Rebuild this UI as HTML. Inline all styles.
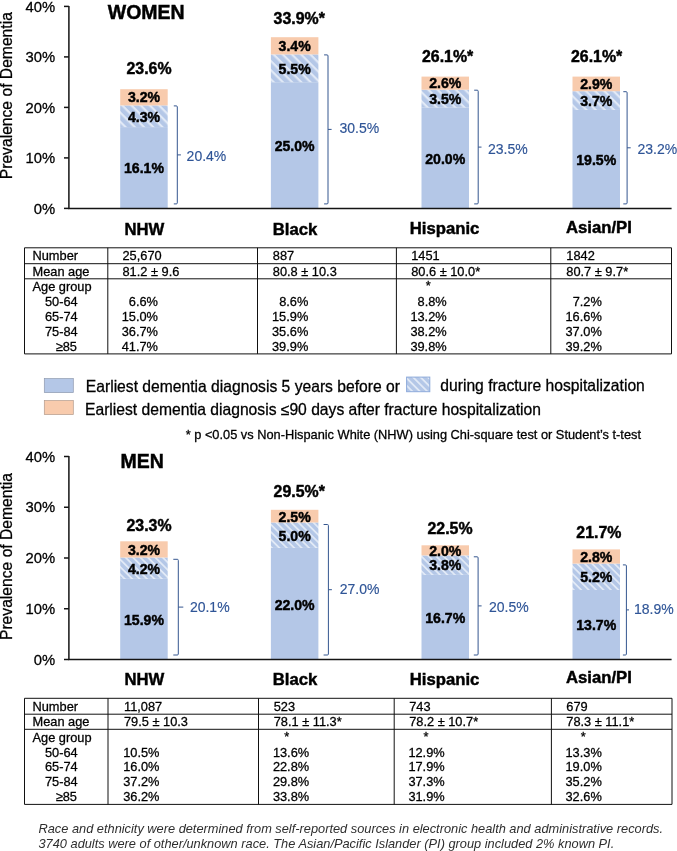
<!DOCTYPE html>
<html lang="en"><head><meta charset="utf-8"><title>Prevalence of Dementia</title>
<style>
html,body{margin:0;padding:0;background:#fff;}
svg{display:block;font-family:"Liberation Sans", sans-serif;}
</style></head><body>
<svg width="677" height="851" viewBox="0 0 677 851">
<defs>
<pattern id="hatch" width="6.5" height="6.5" patternUnits="userSpaceOnUse" patternTransform="rotate(45)">
<rect width="6.5" height="6.5" fill="#b4c7e7"/>
<rect x="0" y="0" width="6.5" height="2.2" fill="#e1e9f6"/>
</pattern>
<pattern id="hatchm" width="5.25" height="5.25" patternUnits="userSpaceOnUse" patternTransform="rotate(45)">
<rect width="5.25" height="5.25" fill="#b4c7e7"/>
<rect x="0" y="0" width="5.25" height="1.8" fill="#e1e9f6"/>
</pattern>
</defs>
<rect width="677" height="851" fill="#fff"/>
<path d="M64 208.4H68.9" stroke="#141414" stroke-width="1.5"/>
<text x="55.2" y="213.5" font-size="14.8" font-weight="normal" fill="#000" stroke="#000" stroke-width="0.28" text-anchor="end" font-style="normal" >0%</text>
<path d="M64 157.9H68.9" stroke="#141414" stroke-width="1.5"/>
<text x="55.2" y="163.0" font-size="14.8" font-weight="normal" fill="#000" stroke="#000" stroke-width="0.28" text-anchor="end" font-style="normal" >10%</text>
<path d="M64 107.4H68.9" stroke="#141414" stroke-width="1.5"/>
<text x="55.2" y="112.5" font-size="14.8" font-weight="normal" fill="#000" stroke="#000" stroke-width="0.28" text-anchor="end" font-style="normal" >20%</text>
<path d="M64 56.900000000000006H68.9" stroke="#141414" stroke-width="1.5"/>
<text x="55.2" y="62.0" font-size="14.8" font-weight="normal" fill="#000" stroke="#000" stroke-width="0.28" text-anchor="end" font-style="normal" >30%</text>
<path d="M64 6.400000000000006H68.9" stroke="#141414" stroke-width="1.5"/>
<text x="55.2" y="11.5" font-size="14.8" font-weight="normal" fill="#000" stroke="#000" stroke-width="0.28" text-anchor="end" font-style="normal" >40%</text>
<text transform="translate(12.4 95.7) rotate(-90)" font-size="15.66" stroke="#000" stroke-width="0.28" text-anchor="middle">Prevalence of Dementia</text>
<text x="107.8" y="19.4" font-size="19.5" font-weight="bold" fill="#000" stroke="#000" stroke-width="0.45" text-anchor="start" font-style="normal" >WOMEN</text>
<rect x="120.2" y="127.1" width="47.5" height="81.3" fill="#b4c7e7"/>
<rect x="120.2" y="105.4" width="47.5" height="21.7" fill="url(#hatch)"/>
<rect x="120.2" y="89.2" width="47.5" height="16.2" fill="#f8cbad"/>
<text x="143.95" y="173.4" font-size="14.1" font-weight="bold" fill="#000" stroke="#000" stroke-width="0.45" text-anchor="middle" font-style="normal" >16.1%</text>
<text x="143.95" y="122" font-size="14.1" font-weight="bold" fill="#000" stroke="#000" stroke-width="0.45" text-anchor="middle" font-style="normal" >4.3%</text>
<text x="143.95" y="102" font-size="14.1" font-weight="bold" fill="#000" stroke="#000" stroke-width="0.45" text-anchor="middle" font-style="normal" >3.2%</text>
<text x="126.5" y="73.7" font-size="15.9" font-weight="bold" fill="#000" stroke="#000" stroke-width="0.45" text-anchor="start" font-style="normal" >23.6%</text>
<path d="M173.8 105.9H176.3Q177.3 105.9 177.3 106.9V202.9Q177.3 203.9 176.3 203.9H173.8M177.3 154.9H180.9" fill="none" stroke="#34568f" stroke-width="1"/>
<text x="186.6" y="160.6" font-size="14.0" font-weight="normal" fill="#2f5597" stroke="#2f5597" stroke-width="0.15" text-anchor="start" font-style="normal" >20.4%</text>
<text x="124.4" y="234.6" font-size="16.7" font-weight="bold" fill="#000" stroke="#000" stroke-width="0.45" text-anchor="start" font-style="normal" >NHW</text>
<rect x="270.9" y="82.2" width="47.5" height="126.2" fill="#b4c7e7"/>
<rect x="270.9" y="54.4" width="47.5" height="27.8" fill="url(#hatch)"/>
<rect x="270.9" y="37.2" width="47.5" height="17.2" fill="#f8cbad"/>
<text x="294.65" y="151" font-size="14.1" font-weight="bold" fill="#000" stroke="#000" stroke-width="0.45" text-anchor="middle" font-style="normal" >25.0%</text>
<text x="294.65" y="73.5" font-size="14.1" font-weight="bold" fill="#000" stroke="#000" stroke-width="0.45" text-anchor="middle" font-style="normal" >5.5%</text>
<text x="294.65" y="51" font-size="14.1" font-weight="bold" fill="#000" stroke="#000" stroke-width="0.45" text-anchor="middle" font-style="normal" >3.4%</text>
<text x="273.6" y="23.8" font-size="15.9" font-weight="bold" fill="#000" stroke="#000" stroke-width="0.45" text-anchor="start" font-style="normal" >33.9%*</text>
<path d="M324.1 54.9H327.0Q328.0 54.9 328.0 55.9V202.9Q328.0 203.9 327.0 203.9H324.1M328.0 129.4H331.6" fill="none" stroke="#34568f" stroke-width="1"/>
<text x="339.5" y="132.5" font-size="14.0" font-weight="normal" fill="#2f5597" stroke="#2f5597" stroke-width="0.15" text-anchor="start" font-style="normal" >30.5%</text>
<text x="272.8" y="234.6" font-size="16.7" font-weight="bold" fill="#000" stroke="#000" stroke-width="0.45" text-anchor="start" font-style="normal" >Black</text>
<rect x="421.5" y="107.4" width="47.5" height="101.0" fill="#b4c7e7"/>
<rect x="421.5" y="89.7" width="47.5" height="17.7" fill="url(#hatch)"/>
<rect x="421.5" y="76.6" width="47.5" height="13.1" fill="#f8cbad"/>
<text x="445.25" y="163.7" font-size="14.1" font-weight="bold" fill="#000" stroke="#000" stroke-width="0.45" text-anchor="middle" font-style="normal" >20.0%</text>
<text x="445.25" y="104.3" font-size="14.1" font-weight="bold" fill="#000" stroke="#000" stroke-width="0.45" text-anchor="middle" font-style="normal" >3.5%</text>
<text x="445.25" y="88.3" font-size="14.1" font-weight="bold" fill="#000" stroke="#000" stroke-width="0.45" text-anchor="middle" font-style="normal" >2.6%</text>
<text x="422" y="62" font-size="15.9" font-weight="bold" fill="#000" stroke="#000" stroke-width="0.45" text-anchor="start" font-style="normal" >26.1%*</text>
<path d="M474.2 90.2H477.2Q478.2 90.2 478.2 91.2V202.9Q478.2 203.9 477.2 203.9H474.2M478.2 147.1H481.5" fill="none" stroke="#34568f" stroke-width="1"/>
<text x="488" y="154" font-size="14.0" font-weight="normal" fill="#2f5597" stroke="#2f5597" stroke-width="0.15" text-anchor="start" font-style="normal" >23.5%</text>
<text x="409.8" y="234.2" font-size="16.7" font-weight="bold" fill="#000" stroke="#000" stroke-width="0.45" text-anchor="start" font-style="normal" >Hispanic</text>
<rect x="572.5" y="109.9" width="47.5" height="98.5" fill="#b4c7e7"/>
<rect x="572.5" y="91.2" width="47.5" height="18.7" fill="url(#hatch)"/>
<rect x="572.5" y="76.6" width="47.5" height="14.6" fill="#f8cbad"/>
<text x="596.25" y="164.7" font-size="14.1" font-weight="bold" fill="#000" stroke="#000" stroke-width="0.45" text-anchor="middle" font-style="normal" >19.5%</text>
<text x="596.25" y="106.2" font-size="14.1" font-weight="bold" fill="#000" stroke="#000" stroke-width="0.45" text-anchor="middle" font-style="normal" >3.7%</text>
<text x="596.25" y="89.3" font-size="14.1" font-weight="bold" fill="#000" stroke="#000" stroke-width="0.45" text-anchor="middle" font-style="normal" >2.9%</text>
<text x="571" y="62" font-size="15.9" font-weight="bold" fill="#000" stroke="#000" stroke-width="0.45" text-anchor="start" font-style="normal" >26.1%*</text>
<path d="M623.3 91.7H626.1Q627.1 91.7 627.1 92.7V202.9Q627.1 203.9 626.1 203.9H623.3M627.1 147.8H630.7" fill="none" stroke="#34568f" stroke-width="1"/>
<text x="637.5" y="154" font-size="14.0" font-weight="normal" fill="#2f5597" stroke="#2f5597" stroke-width="0.15" text-anchor="start" font-style="normal" >23.2%</text>
<text x="566" y="232.5" font-size="16.7" font-weight="bold" fill="#000" stroke="#000" stroke-width="0.45" text-anchor="start" font-style="normal" >Asian/PI</text>
<path d="M68.9 5.900000000000006V208.4H671.6" fill="none" stroke="#141414" stroke-width="1.5"/>
<path d="M24.5 247.8H671.5V353.9H24.5Z M24.5 263.7H671.5 M24.5 278.8H671.5 M107.8 247.8V353.9 M257.5 247.8V353.9 M396.4 247.8V353.9 M550.8 247.8V353.9" fill="none" stroke="#111" stroke-width="1"/>
<text x="32.5" y="260.0" font-size="12.8" font-weight="normal" fill="#000" stroke="#000" stroke-width="0.28" text-anchor="start" font-style="normal" >Number</text>
<text x="32.5" y="275.90000000000003" font-size="12.8" font-weight="normal" fill="#000" stroke="#000" stroke-width="0.28" text-anchor="start" font-style="normal" >Mean age</text>
<text x="32.5" y="291.40000000000003" font-size="12.8" font-weight="normal" fill="#000" stroke="#000" stroke-width="0.28" text-anchor="start" font-style="normal" >Age group</text>
<text x="45" y="306.2" font-size="12.8" font-weight="normal" fill="#000" stroke="#000" stroke-width="0.28" text-anchor="start" font-style="normal" >50-64</text>
<text x="45" y="320.8" font-size="12.8" font-weight="normal" fill="#000" stroke="#000" stroke-width="0.28" text-anchor="start" font-style="normal" >65-74</text>
<text x="45" y="335.70000000000005" font-size="12.8" font-weight="normal" fill="#000" stroke="#000" stroke-width="0.28" text-anchor="start" font-style="normal" >75-84</text>
<text x="77" y="350.8" font-size="12.8" font-weight="normal" fill="#000" stroke="#000" stroke-width="0.28" text-anchor="end" font-style="normal" >≥85</text>
<text x="122.5" y="260.0" font-size="12.8" font-weight="normal" fill="#000" stroke="#000" stroke-width="0.28" text-anchor="start" font-style="normal" >25,670</text>
<text x="122.5" y="275.90000000000003" font-size="12.8" font-weight="normal" fill="#000" stroke="#000" stroke-width="0.28" text-anchor="start" font-style="normal" >81.2 ± 9.6</text>
<text x="158.0" y="306.2" font-size="12.8" font-weight="normal" fill="#000" stroke="#000" stroke-width="0.28" text-anchor="end" font-style="normal" >6.6%</text>
<text x="158.0" y="320.8" font-size="12.8" font-weight="normal" fill="#000" stroke="#000" stroke-width="0.28" text-anchor="end" font-style="normal" >15.0%</text>
<text x="158.0" y="335.70000000000005" font-size="12.8" font-weight="normal" fill="#000" stroke="#000" stroke-width="0.28" text-anchor="end" font-style="normal" >36.7%</text>
<text x="158.0" y="350.8" font-size="12.8" font-weight="normal" fill="#000" stroke="#000" stroke-width="0.28" text-anchor="end" font-style="normal" >41.7%</text>
<text x="272.8" y="260.0" font-size="12.8" font-weight="normal" fill="#000" stroke="#000" stroke-width="0.28" text-anchor="start" font-style="normal" >887</text>
<text x="272.8" y="275.90000000000003" font-size="12.8" font-weight="normal" fill="#000" stroke="#000" stroke-width="0.28" text-anchor="start" font-style="normal" >80.8 ± 10.3</text>
<text x="308.3" y="306.2" font-size="12.8" font-weight="normal" fill="#000" stroke="#000" stroke-width="0.28" text-anchor="end" font-style="normal" >8.6%</text>
<text x="308.3" y="320.8" font-size="12.8" font-weight="normal" fill="#000" stroke="#000" stroke-width="0.28" text-anchor="end" font-style="normal" >15.9%</text>
<text x="308.3" y="335.70000000000005" font-size="12.8" font-weight="normal" fill="#000" stroke="#000" stroke-width="0.28" text-anchor="end" font-style="normal" >35.6%</text>
<text x="308.3" y="350.8" font-size="12.8" font-weight="normal" fill="#000" stroke="#000" stroke-width="0.28" text-anchor="end" font-style="normal" >39.9%</text>
<text x="411.2" y="260.0" font-size="12.8" font-weight="normal" fill="#000" stroke="#000" stroke-width="0.28" text-anchor="start" font-style="normal" >1451</text>
<text x="411.2" y="275.90000000000003" font-size="12.8" font-weight="normal" fill="#000" stroke="#000" stroke-width="0.28" text-anchor="start" font-style="normal" >80.6 ± 10.0*</text>
<text x="428.3" y="290.3" font-size="12.8" font-weight="normal" fill="#000" stroke="#000" stroke-width="0.28" text-anchor="middle" font-style="normal" >*</text>
<text x="446.7" y="306.2" font-size="12.8" font-weight="normal" fill="#000" stroke="#000" stroke-width="0.28" text-anchor="end" font-style="normal" >8.8%</text>
<text x="446.7" y="320.8" font-size="12.8" font-weight="normal" fill="#000" stroke="#000" stroke-width="0.28" text-anchor="end" font-style="normal" >13.2%</text>
<text x="446.7" y="335.70000000000005" font-size="12.8" font-weight="normal" fill="#000" stroke="#000" stroke-width="0.28" text-anchor="end" font-style="normal" >38.2%</text>
<text x="446.7" y="350.8" font-size="12.8" font-weight="normal" fill="#000" stroke="#000" stroke-width="0.28" text-anchor="end" font-style="normal" >39.8%</text>
<text x="566.3" y="260.0" font-size="12.8" font-weight="normal" fill="#000" stroke="#000" stroke-width="0.28" text-anchor="start" font-style="normal" >1842</text>
<text x="566.3" y="275.90000000000003" font-size="12.8" font-weight="normal" fill="#000" stroke="#000" stroke-width="0.28" text-anchor="start" font-style="normal" >80.7 ± 9.7*</text>
<text x="601.8" y="306.2" font-size="12.8" font-weight="normal" fill="#000" stroke="#000" stroke-width="0.28" text-anchor="end" font-style="normal" >7.2%</text>
<text x="601.8" y="320.8" font-size="12.8" font-weight="normal" fill="#000" stroke="#000" stroke-width="0.28" text-anchor="end" font-style="normal" >16.6%</text>
<text x="601.8" y="335.70000000000005" font-size="12.8" font-weight="normal" fill="#000" stroke="#000" stroke-width="0.28" text-anchor="end" font-style="normal" >37.0%</text>
<text x="601.8" y="350.8" font-size="12.8" font-weight="normal" fill="#000" stroke="#000" stroke-width="0.28" text-anchor="end" font-style="normal" >39.2%</text>
<rect x="44.3" y="378.6" width="29" height="14" fill="#b4c7e7" stroke="#8e99ae" stroke-width="0.7"/>
<rect x="44.3" y="400.6" width="29" height="14" fill="#f8cbad" stroke="#b39a8c" stroke-width="0.7"/>
<rect x="406.6" y="377.1" width="23.2" height="14.6" fill="url(#hatchm)" stroke="#8eaadb" stroke-width="1"/>
<text x="85.8" y="391.5" font-size="15.66" font-weight="normal" fill="#000" stroke="#000" stroke-width="0.28" text-anchor="start" font-style="normal" >Earliest dementia diagnosis 5 years before or</text>
<text x="440.3" y="391.2" font-size="15.66" font-weight="normal" fill="#000" stroke="#000" stroke-width="0.28" text-anchor="start" font-style="normal" >during fracture hospitalization</text>
<text x="85" y="415.1" font-size="15.66" font-weight="normal" fill="#000" stroke="#000" stroke-width="0.28" text-anchor="start" font-style="normal" >Earliest dementia diagnosis ≤90 days after fracture hospitalization</text>
<text x="185.7" y="439.4" font-size="12.8" font-weight="normal" fill="#000" stroke="#000" stroke-width="0.28" text-anchor="start" font-style="normal" >* p &lt;0.05 vs Non-Hispanic White (NHW) using Chi-square test or Student’s t-test</text>
<path d="M64 659.5H68.9" stroke="#141414" stroke-width="1.5"/>
<text x="55.2" y="664.6" font-size="14.8" font-weight="normal" fill="#000" stroke="#000" stroke-width="0.28" text-anchor="end" font-style="normal" >0%</text>
<path d="M64 608.75H68.9" stroke="#141414" stroke-width="1.5"/>
<text x="55.2" y="613.9" font-size="14.8" font-weight="normal" fill="#000" stroke="#000" stroke-width="0.28" text-anchor="end" font-style="normal" >10%</text>
<path d="M64 558.0H68.9" stroke="#141414" stroke-width="1.5"/>
<text x="55.2" y="563.1" font-size="14.8" font-weight="normal" fill="#000" stroke="#000" stroke-width="0.28" text-anchor="end" font-style="normal" >20%</text>
<path d="M64 507.25H68.9" stroke="#141414" stroke-width="1.5"/>
<text x="55.2" y="512.4" font-size="14.8" font-weight="normal" fill="#000" stroke="#000" stroke-width="0.28" text-anchor="end" font-style="normal" >30%</text>
<path d="M64 456.5H68.9" stroke="#141414" stroke-width="1.5"/>
<text x="55.2" y="461.6" font-size="14.8" font-weight="normal" fill="#000" stroke="#000" stroke-width="0.28" text-anchor="end" font-style="normal" >40%</text>
<text transform="translate(12.4 556.5) rotate(-90)" font-size="15.66" stroke="#000" stroke-width="0.28" text-anchor="middle">Prevalence of Dementia</text>
<text x="120.6" y="468.3" font-size="19.5" font-weight="bold" fill="#000" stroke="#000" stroke-width="0.45" text-anchor="start" font-style="normal" >MEN</text>
<rect x="120.2" y="578.8" width="47.5" height="80.7" fill="#b4c7e7"/>
<rect x="120.2" y="557.5" width="47.5" height="21.3" fill="url(#hatchm)"/>
<rect x="120.2" y="541.3" width="47.5" height="16.2" fill="#f8cbad"/>
<text x="143.95" y="625" font-size="14.1" font-weight="bold" fill="#000" stroke="#000" stroke-width="0.45" text-anchor="middle" font-style="normal" >15.9%</text>
<text x="143.95" y="574" font-size="14.1" font-weight="bold" fill="#000" stroke="#000" stroke-width="0.45" text-anchor="middle" font-style="normal" >4.2%</text>
<text x="143.95" y="555" font-size="14.1" font-weight="bold" fill="#000" stroke="#000" stroke-width="0.45" text-anchor="middle" font-style="normal" >3.2%</text>
<text x="126.5" y="531" font-size="15.9" font-weight="bold" fill="#000" stroke="#000" stroke-width="0.45" text-anchor="start" font-style="normal" >23.3%</text>
<path d="M173.3 559.3H177.3Q178.3 559.3 178.3 560.3V654.0Q178.3 655.0 177.3 655.0H173.3M178.3 607.1H183.3" fill="none" stroke="#34568f" stroke-width="1"/>
<text x="189.9" y="612.3" font-size="14.0" font-weight="normal" fill="#2f5597" stroke="#2f5597" stroke-width="0.15" text-anchor="start" font-style="normal" >20.1%</text>
<text x="124.4" y="685" font-size="16.7" font-weight="bold" fill="#000" stroke="#000" stroke-width="0.45" text-anchor="start" font-style="normal" >NHW</text>
<rect x="270.9" y="547.9" width="47.5" height="111.6" fill="#b4c7e7"/>
<rect x="270.9" y="522.5" width="47.5" height="25.4" fill="url(#hatchm)"/>
<rect x="270.9" y="509.8" width="47.5" height="12.7" fill="#f8cbad"/>
<text x="294.65" y="610" font-size="14.1" font-weight="bold" fill="#000" stroke="#000" stroke-width="0.45" text-anchor="middle" font-style="normal" >22.0%</text>
<text x="294.65" y="540.5" font-size="14.1" font-weight="bold" fill="#000" stroke="#000" stroke-width="0.45" text-anchor="middle" font-style="normal" >5.0%</text>
<text x="294.65" y="521.5" font-size="14.1" font-weight="bold" fill="#000" stroke="#000" stroke-width="0.45" text-anchor="middle" font-style="normal" >2.5%</text>
<text x="273.6" y="496.5" font-size="15.9" font-weight="bold" fill="#000" stroke="#000" stroke-width="0.45" text-anchor="start" font-style="normal" >29.5%*</text>
<path d="M323.6 524.5H327.4Q328.4 524.5 328.4 525.5V654.0Q328.4 655.0 327.4 655.0H323.6M328.4 589.7H331.9" fill="none" stroke="#34568f" stroke-width="1"/>
<text x="339.7" y="594" font-size="14.0" font-weight="normal" fill="#2f5597" stroke="#2f5597" stroke-width="0.15" text-anchor="start" font-style="normal" >27.0%</text>
<text x="272.8" y="685" font-size="16.7" font-weight="bold" fill="#000" stroke="#000" stroke-width="0.45" text-anchor="start" font-style="normal" >Black</text>
<rect x="421.5" y="574.7" width="47.5" height="84.8" fill="#b4c7e7"/>
<rect x="421.5" y="555.5" width="47.5" height="19.3" fill="url(#hatchm)"/>
<rect x="421.5" y="545.3" width="47.5" height="10.1" fill="#f8cbad"/>
<text x="445.25" y="623" font-size="14.1" font-weight="bold" fill="#000" stroke="#000" stroke-width="0.45" text-anchor="middle" font-style="normal" >16.7%</text>
<text x="445.25" y="570" font-size="14.1" font-weight="bold" fill="#000" stroke="#000" stroke-width="0.45" text-anchor="middle" font-style="normal" >3.8%</text>
<text x="445.25" y="556" font-size="14.1" font-weight="bold" fill="#000" stroke="#000" stroke-width="0.45" text-anchor="middle" font-style="normal" >2.0%</text>
<text x="427.5" y="533.7" font-size="15.9" font-weight="bold" fill="#000" stroke="#000" stroke-width="0.45" text-anchor="start" font-style="normal" >22.5%</text>
<path d="M473.8 556.8H477.1Q478.1 556.8 478.1 557.8V654.0Q478.1 655.0 477.1 655.0H473.8M478.1 605.9H481.6" fill="none" stroke="#34568f" stroke-width="1"/>
<text x="489" y="611.7" font-size="14.0" font-weight="normal" fill="#2f5597" stroke="#2f5597" stroke-width="0.15" text-anchor="start" font-style="normal" >20.5%</text>
<text x="409.8" y="684.6" font-size="16.7" font-weight="bold" fill="#000" stroke="#000" stroke-width="0.45" text-anchor="start" font-style="normal" >Hispanic</text>
<rect x="572.5" y="590.0" width="47.5" height="69.5" fill="#b4c7e7"/>
<rect x="572.5" y="563.6" width="47.5" height="26.4" fill="url(#hatchm)"/>
<rect x="572.5" y="549.4" width="47.5" height="14.2" fill="#f8cbad"/>
<text x="596.25" y="630" font-size="14.1" font-weight="bold" fill="#000" stroke="#000" stroke-width="0.45" text-anchor="middle" font-style="normal" >13.7%</text>
<text x="596.25" y="582" font-size="14.1" font-weight="bold" fill="#000" stroke="#000" stroke-width="0.45" text-anchor="middle" font-style="normal" >5.2%</text>
<text x="596.25" y="562" font-size="14.1" font-weight="bold" fill="#000" stroke="#000" stroke-width="0.45" text-anchor="middle" font-style="normal" >2.8%</text>
<text x="576.3" y="538" font-size="15.9" font-weight="bold" fill="#000" stroke="#000" stroke-width="0.45" text-anchor="start" font-style="normal" >21.7%</text>
<path d="M622.9 564.9H625.4Q626.4 564.9 626.4 565.9V654.0Q626.4 655.0 625.4 655.0H622.9M626.4 609.9H629.0" fill="none" stroke="#34568f" stroke-width="1"/>
<text x="634" y="614" font-size="14.0" font-weight="normal" fill="#2f5597" stroke="#2f5597" stroke-width="0.15" text-anchor="start" font-style="normal" >18.9%</text>
<text x="566" y="683" font-size="16.7" font-weight="bold" fill="#000" stroke="#000" stroke-width="0.45" text-anchor="start" font-style="normal" >Asian/PI</text>
<path d="M68.9 456.0V659.5H671.6" fill="none" stroke="#141414" stroke-width="1.5"/>
<path d="M24.5 698.3H672V804.4H24.5Z M24.5 714.1999999999999H672 M24.5 729.3H672 M108 698.3V804.4 M258.5 698.3V804.4 M394.2 698.3V804.4 M551.4 698.3V804.4" fill="none" stroke="#111" stroke-width="1"/>
<text x="32.5" y="710.5" font-size="12.8" font-weight="normal" fill="#000" stroke="#000" stroke-width="0.28" text-anchor="start" font-style="normal" >Number</text>
<text x="32.5" y="726.4" font-size="12.8" font-weight="normal" fill="#000" stroke="#000" stroke-width="0.28" text-anchor="start" font-style="normal" >Mean age</text>
<text x="32.5" y="741.9" font-size="12.8" font-weight="normal" fill="#000" stroke="#000" stroke-width="0.28" text-anchor="start" font-style="normal" >Age group</text>
<text x="45" y="756.6999999999999" font-size="12.8" font-weight="normal" fill="#000" stroke="#000" stroke-width="0.28" text-anchor="start" font-style="normal" >50-64</text>
<text x="45" y="771.3" font-size="12.8" font-weight="normal" fill="#000" stroke="#000" stroke-width="0.28" text-anchor="start" font-style="normal" >65-74</text>
<text x="45" y="786.1999999999999" font-size="12.8" font-weight="normal" fill="#000" stroke="#000" stroke-width="0.28" text-anchor="start" font-style="normal" >75-84</text>
<text x="77" y="801.3" font-size="12.8" font-weight="normal" fill="#000" stroke="#000" stroke-width="0.28" text-anchor="end" font-style="normal" >≥85</text>
<text x="124" y="710.5" font-size="12.8" font-weight="normal" fill="#000" stroke="#000" stroke-width="0.28" text-anchor="start" font-style="normal" >11,087</text>
<text x="124" y="726.4" font-size="12.8" font-weight="normal" fill="#000" stroke="#000" stroke-width="0.28" text-anchor="start" font-style="normal" >79.5 ± 10.3</text>
<text x="159.5" y="756.6999999999999" font-size="12.8" font-weight="normal" fill="#000" stroke="#000" stroke-width="0.28" text-anchor="end" font-style="normal" >10.5%</text>
<text x="159.5" y="771.3" font-size="12.8" font-weight="normal" fill="#000" stroke="#000" stroke-width="0.28" text-anchor="end" font-style="normal" >16.0%</text>
<text x="159.5" y="786.1999999999999" font-size="12.8" font-weight="normal" fill="#000" stroke="#000" stroke-width="0.28" text-anchor="end" font-style="normal" >37.2%</text>
<text x="159.5" y="801.3" font-size="12.8" font-weight="normal" fill="#000" stroke="#000" stroke-width="0.28" text-anchor="end" font-style="normal" >36.2%</text>
<text x="273.7" y="710.5" font-size="12.8" font-weight="normal" fill="#000" stroke="#000" stroke-width="0.28" text-anchor="start" font-style="normal" >523</text>
<text x="273.7" y="726.4" font-size="12.8" font-weight="normal" fill="#000" stroke="#000" stroke-width="0.28" text-anchor="start" font-style="normal" >78.1 ± 11.3*</text>
<text x="286.7" y="740.8" font-size="12.8" font-weight="normal" fill="#000" stroke="#000" stroke-width="0.28" text-anchor="middle" font-style="normal" >*</text>
<text x="309.2" y="756.6999999999999" font-size="12.8" font-weight="normal" fill="#000" stroke="#000" stroke-width="0.28" text-anchor="end" font-style="normal" >13.6%</text>
<text x="309.2" y="771.3" font-size="12.8" font-weight="normal" fill="#000" stroke="#000" stroke-width="0.28" text-anchor="end" font-style="normal" >22.8%</text>
<text x="309.2" y="786.1999999999999" font-size="12.8" font-weight="normal" fill="#000" stroke="#000" stroke-width="0.28" text-anchor="end" font-style="normal" >29.8%</text>
<text x="309.2" y="801.3" font-size="12.8" font-weight="normal" fill="#000" stroke="#000" stroke-width="0.28" text-anchor="end" font-style="normal" >33.8%</text>
<text x="409.2" y="710.5" font-size="12.8" font-weight="normal" fill="#000" stroke="#000" stroke-width="0.28" text-anchor="start" font-style="normal" >743</text>
<text x="409.2" y="726.4" font-size="12.8" font-weight="normal" fill="#000" stroke="#000" stroke-width="0.28" text-anchor="start" font-style="normal" >78.2 ± 10.7*</text>
<text x="425.9" y="740.8" font-size="12.8" font-weight="normal" fill="#000" stroke="#000" stroke-width="0.28" text-anchor="middle" font-style="normal" >*</text>
<text x="444.7" y="756.6999999999999" font-size="12.8" font-weight="normal" fill="#000" stroke="#000" stroke-width="0.28" text-anchor="end" font-style="normal" >12.9%</text>
<text x="444.7" y="771.3" font-size="12.8" font-weight="normal" fill="#000" stroke="#000" stroke-width="0.28" text-anchor="end" font-style="normal" >17.9%</text>
<text x="444.7" y="786.1999999999999" font-size="12.8" font-weight="normal" fill="#000" stroke="#000" stroke-width="0.28" text-anchor="end" font-style="normal" >37.3%</text>
<text x="444.7" y="801.3" font-size="12.8" font-weight="normal" fill="#000" stroke="#000" stroke-width="0.28" text-anchor="end" font-style="normal" >31.9%</text>
<text x="566.3" y="710.5" font-size="12.8" font-weight="normal" fill="#000" stroke="#000" stroke-width="0.28" text-anchor="start" font-style="normal" >679</text>
<text x="566.3" y="726.4" font-size="12.8" font-weight="normal" fill="#000" stroke="#000" stroke-width="0.28" text-anchor="start" font-style="normal" >78.3 ± 11.1*</text>
<text x="583.3" y="740.8" font-size="12.8" font-weight="normal" fill="#000" stroke="#000" stroke-width="0.28" text-anchor="middle" font-style="normal" >*</text>
<text x="601.8" y="756.6999999999999" font-size="12.8" font-weight="normal" fill="#000" stroke="#000" stroke-width="0.28" text-anchor="end" font-style="normal" >13.3%</text>
<text x="601.8" y="771.3" font-size="12.8" font-weight="normal" fill="#000" stroke="#000" stroke-width="0.28" text-anchor="end" font-style="normal" >19.0%</text>
<text x="601.8" y="786.1999999999999" font-size="12.8" font-weight="normal" fill="#000" stroke="#000" stroke-width="0.28" text-anchor="end" font-style="normal" >35.2%</text>
<text x="601.8" y="801.3" font-size="12.8" font-weight="normal" fill="#000" stroke="#000" stroke-width="0.28" text-anchor="end" font-style="normal" >32.6%</text>
<text x="38.5" y="832.6" font-size="12.8" font-weight="normal" fill="#2e2e2e" stroke="#2e2e2e" stroke-width="0" text-anchor="start" font-style="italic" >Race and ethnicity were determined from self-reported sources in electronic health and administrative records.</text>
<text x="38.5" y="847.6" font-size="12.8" font-weight="normal" fill="#2e2e2e" stroke="#2e2e2e" stroke-width="0" text-anchor="start" font-style="italic" >3740 adults were of other/unknown race. The Asian/Pacific Islander (PI) group included 2% known PI.</text>
</svg>
</body></html>
